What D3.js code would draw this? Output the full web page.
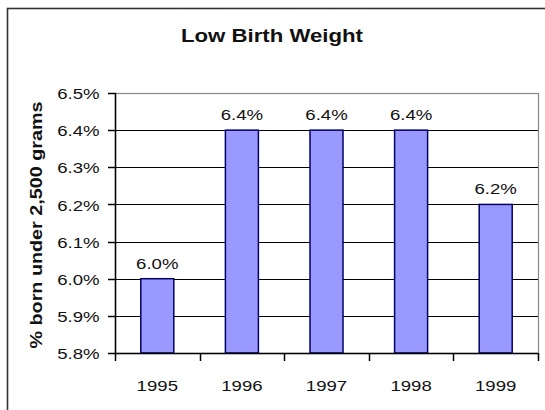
<!DOCTYPE html>
<html>
<head>
<meta charset="utf-8">
<script src="https://cdn.jsdelivr.net/npm/d3@7"></script>
<style>
  html, body { margin: 0; padding: 0; background: #fff; }
  svg { display: block; }
  text { font-family: Arial, "Liberation Sans", sans-serif; fill: #111; }
</style>
</head>
<body>
<script>
const years = ["1995", "1996", "1997", "1998", "1999"];
const values = [6.0, 6.4, 6.4, 6.4, 6.2];
const valueLabels = ["6.0%", "6.4%", "6.4%", "6.4%", "6.2%"];
const yTicks = [5.8, 5.9, 6.0, 6.1, 6.2, 6.3, 6.4, 6.5];
const title = "Low Birth Weight";
const yTitle = "% born under 2,500 grams";

const W = 545, H = 410;
const plot = { left: 115, right: 538, top: 93, bottom: 353 };
const sx = 1.2; // horizontal stretch of the reference text

const svg = d3.select("body").append("svg").attr("width", W).attr("height", H);
svg.append("rect").attr("width", W).attr("height", H).attr("fill", "#fff");

// outer chart border (extends beyond the picture on right/bottom)
svg.append("rect").attr("x", 7.5).attr("y", 8.5).attr("width", W + 20).attr("height", H + 20)
  .attr("fill", "none").attr("stroke", "#333").attr("stroke-width", 1.6);

const y = d3.scaleLinear().domain([5.8, 6.5]).range([plot.bottom, plot.top]);
const x = d3.scaleBand().domain(years).range([plot.left, plot.right])
  .paddingInner(0.61).paddingOuter(0.305);

// plot area border
svg.append("rect").attr("x", plot.left + 0.5).attr("y", plot.top + 0.5)
  .attr("width", plot.right - plot.left).attr("height", plot.bottom - plot.top)
  .attr("fill", "#fff").attr("stroke", "#888").attr("stroke-width", 1.2);

// gridlines
svg.append("g").selectAll("line").data(yTicks.filter(t => t > 5.8 && t < 6.5)).join("line")
  .attr("x1", plot.left).attr("x2", plot.right)
  .attr("y1", d => Math.round(y(d)) + 0.5).attr("y2", d => Math.round(y(d)) + 0.5)
  .attr("stroke", "#000").attr("stroke-width", 1.2);

// bars
svg.append("g").selectAll("rect").data(values).join("rect")
  .attr("x", (d, i) => x(years[i]))
  .attr("y", d => y(d))
  .attr("width", x.bandwidth())
  .attr("height", d => y(5.8) - y(d))
  .attr("fill", "#9999ff").attr("stroke", "#000066").attr("stroke-width", 1.5);

// value labels
svg.append("g").selectAll("text").data(values).join("text")
  .attr("transform", (d, i) => `translate(${x(years[i]) + x.bandwidth() / 2},${y(d) - 10}) scale(${sx},1)`)
  .attr("text-anchor", "middle").attr("font-size", 15.5)
  .text((d, i) => valueLabels[i]);

// y axis (labels via d3 axis, tick marks drawn explicitly)
const yAxis = svg.append("g").attr("transform", `translate(${plot.left + 0.5},0)`)
  .call(d3.axisLeft(y).tickValues(yTicks).tickSize(0).tickPadding(0).tickFormat(d => d.toFixed(1) + "%"));
yAxis.select(".domain").remove();
yAxis.selectAll(".tick text").attr("font-size", 15.5).attr("fill", "#111")
  .attr("x", null).attr("dy", "0.36em")
  .attr("transform", `translate(-16,0) scale(${sx},1)`)
  .style("font-family", "Arial, 'Liberation Sans', sans-serif");

svg.append("g").selectAll("line").data(yTicks).join("line")
  .attr("x1", plot.left - 7).attr("x2", plot.left + 1)
  .attr("y1", d => Math.round(y(d)) + 0.5).attr("y2", d => Math.round(y(d)) + 0.5)
  .attr("stroke", "#000").attr("stroke-width", 1.5);
svg.append("line")
  .attr("x1", plot.left + 0.5).attr("x2", plot.left + 0.5)
  .attr("y1", y(6.5)).attr("y2", y(5.8) + 1)
  .attr("stroke", "#000").attr("stroke-width", 1.5);

// x axis
const xAxis = svg.append("g").attr("transform", `translate(0,${plot.bottom + 0.5})`)
  .call(d3.axisBottom(x).tickSize(0).tickPadding(0));
xAxis.select(".domain").remove();
xAxis.selectAll(".tick text").attr("font-size", 15.5).attr("fill", "#111")
  .attr("y", null).attr("dy", null)
  .attr("transform", `translate(0,37) scale(${sx},1)`)
  .style("font-family", "Arial, 'Liberation Sans', sans-serif");

svg.append("line")
  .attr("x1", plot.left).attr("x2", plot.right)
  .attr("y1", Math.round(y(5.8)) + 0.5).attr("y2", Math.round(y(5.8)) + 0.5)
  .attr("stroke", "#000").attr("stroke-width", 1.5);

// category boundary ticks
const bounds = years.map((yr, i) => i === 0 ? plot.left : x(yr) - x.step() * x.paddingInner() / 2)
  .concat([plot.right]);
svg.append("g").selectAll("line").data(bounds).join("line")
  .attr("x1", d => Math.round(d) + 0.5).attr("x2", d => Math.round(d) + 0.5)
  .attr("y1", plot.bottom).attr("y2", plot.bottom + 8)
  .attr("stroke", "#000").attr("stroke-width", 1.5);

// title
svg.append("text").attr("transform", `translate(272,42) scale(${sx},1)`)
  .attr("text-anchor", "middle").attr("font-size", 18.5).attr("font-weight", "bold")
  .text(title);

// y axis title
svg.append("text").attr("transform", `translate(42,${(plot.top + plot.bottom) / 2 + 2}) rotate(-90)`)
  .attr("text-anchor", "middle").attr("font-size", 17).attr("font-weight", "bold")
  .attr("textLength", 247).attr("lengthAdjust", "spacingAndGlyphs")
  .text(yTitle);
</script>
</body>
</html>
